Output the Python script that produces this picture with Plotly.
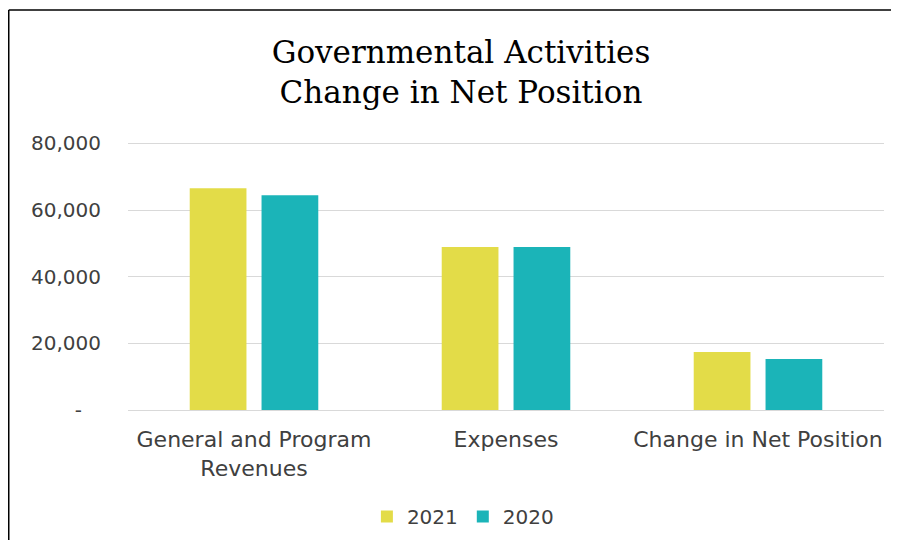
import plotly.graph_objects as go

categories = ["General and Program<br>Revenues", "Expenses", "Change in Net Position"]
values_2021 = [66500, 48900, 17400]
values_2020 = [64400, 48900, 15300]
tick_vals = [0, 20000, 40000, 60000, 80000]
tick_text = ["-\u00a0\u00a0\u00a0", "20,000", "40,000", "60,000", "80,000"]

W, H = 883, 532
L, R, T, B = 120, 7, 132, 130
plot_w = W - L - R
plot_h = H - T - B

tick_font = dict(family="DejaVu Sans", size=20, color="#404040")
cat_font = dict(family="DejaVu Sans", size=22, color="#404040")

fig = go.Figure()
fig.add_trace(go.Bar(name="2021", x=categories, y=values_2021, marker=dict(color="#E3DC48", line=dict(width=0))))
fig.add_trace(go.Bar(name="2020", x=categories, y=values_2020, marker=dict(color="#1BB4B8", line=dict(width=0))))

fig.update_layout(
    width=W, height=H,
    margin=dict(l=L, r=R, t=T, b=B, autoexpand=False),
    paper_bgcolor="white", plot_bgcolor="white",
    barmode="group", bargap=0.43, bargroupgap=0.21,
    title=dict(text="Governmental Activities<br>Change in Net Position",
               x=453/W, xanchor="center", xref="container",
               y=1 - 55/H, yanchor="top", yref="container",
               font=dict(family="DejaVu Serif", size=31, color="#000000")),
    showlegend=True,
    legend=dict(orientation="h", x=0.316, xanchor="left", y=-87/plot_h, yanchor="top",
                font=tick_font, itemwidth=30, traceorder="normal"),
    font=tick_font,
)
fig.update_yaxes(range=[0, 81000], tickvals=tick_vals, ticktext=tick_text,
                 showgrid=True, gridcolor="#D9D9D9", gridwidth=1,
                 zeroline=False, showline=False, ticks="", ticklabelstandoff=26,
                 tickfont=tick_font, automargin=False)
fig.update_xaxes(showline=True, linecolor="#D9D9D9", linewidth=1, ticks="",
                 ticklabelstandoff=10, tickfont=cat_font, automargin=False)

top_y = 1 + (T - 2) / plot_h
left_x = (0.75 - L) / plot_w
fig.add_shape(type="line", xref="paper", yref="paper",
              x0=left_x, x1=(W + 20 - L) / plot_w, y0=top_y, y1=top_y,
              line=dict(color="#000000", width=1.5), layer="above")
fig.add_shape(type="line", xref="paper", yref="paper",
              x0=left_x, x1=left_x, y0=top_y, y1=-(B + 20) / plot_h,
              line=dict(color="#000000", width=1.5), layer="above")

fig.write_html("out.html")
